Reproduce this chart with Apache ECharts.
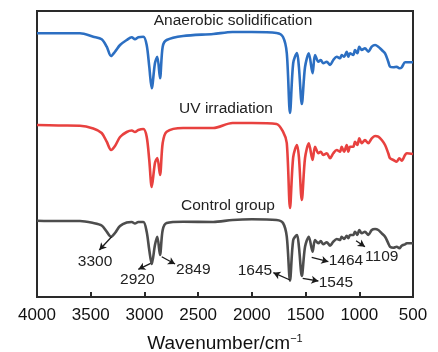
<!DOCTYPE html>
<html><head><meta charset="utf-8">
<script src="https://cdn.jsdelivr.net/npm/echarts@6/dist/echarts.min.js"></script>
<style>html,body{margin:0;padding:0;background:#fff}#c{width:438px;height:352px}</style>
</head><body><div id="c"></div>
<script>
// Wavenumbers (cm-1)
const wavenumbers = [4000,3800,3600,3476,3398,3351,3311,3274,3227,3165,3118,3088,3057,3010,2979,2955,2932,2902,2880,2855,2830,2793,2640,2360,2180,2000,1770,1710,1675,1645,1615,1580,1562,1535,1505,1470,1435,1412,1381,1359,1335,1303,1272,1242,1210,1179,1164,1142,1117,1102,1086,1056,1040,1018,1000,977,947,916,884,853,823,791,760,730,714,683,652,627,605,574,558,500];
// Stacked transmittance (a.u., offset)
const anaerobic = [263.7,263.7,263.7,260.3,257.7,250.3,241,245.3,252,257,259.7,257.7,259.7,260.3,252,230.3,208.7,233.7,240.3,218.7,250.3,257,261,263,265,265,264,260,244,184,234,244,230,193,230,243.7,223.7,242,235.3,237,233.7,235.3,232,237,240.3,238.7,242,240.3,245.3,240.3,243.7,242,247,243.7,250.3,247,248.7,245.3,250.3,252,250.3,247,243.7,235.3,230.3,229.7,230.3,228.7,229.7,234.7,234.7,234.7];
const uvIrradiation = [172,171.5,171.3,168.5,164,155.3,147,151,160,165,166.5,165,167,168,160.3,137,110,134,139,122,154,165.3,169,169,174,174,173,165.3,154,89,140,152,140,97,139,153.7,137,150.3,143.7,145.3,142,143.7,138.7,143.7,147,145.3,150.3,145.3,152,145.3,150.3,150.3,155.3,152,158.7,153.7,157,153.7,158.7,161,160.3,157,152,143.7,138.7,137,135.3,138.7,136.3,142,143.7,143];
const controlGroup = [76.3,76,76,74,71.5,65.3,60.3,64,71,74.5,75,73.5,75,75,65.3,47,33,52,60.3,42,67,74,75.3,75,77,77.7,77,74,60.3,16.3,57,62,50.3,21,50.3,60.3,45.3,57,53.7,56,52.7,54.7,51.3,55.3,58,57,60.3,58,61.3,58.7,62,62,65.3,62,67,63.7,65.3,62,67,68,67,63.7,60.3,53.7,50.3,49.3,50.3,48.7,51.3,52.7,53.7,53.7];
const seriesNames = ['Anaerobic solidification','UV irradiation','Control group'];
const xTicks = [4000,3500,3000,2500,2000,1500,1000,500];
// Peak annotations (control group): label, arrow tail at peak, arrow head, label anchor (data coords)
const peakLabels = ['3300','2920','2849','1645','1545','1464','1109'];
const peakFrom = [[3305,60.3],[2942,33.7],[2839,40.3],[1645,17],[1527,18.7],[1443,39.7],[1030,56.3]];
const peakTo = [[3420,47],[3057,27.7],[2715,33],[1800,24.3],[1381,16],[1288,35.3],[947,50.3]];
const peakText = [[3460,35.3],[3066,17],[2545,27.7],[1971,26.3],[1217,14.3],[1124,36.3],[791,40.3]];

const FONT = "'Liberation Sans', Arial, sans-serif";
const colors = ['#2c6fc2','#e8413f','#4d4d4d'];
const dataSets = [anaerobic, uvIrradiation, controlGroup];

const chart = echarts.init(document.getElementById('c'), null, {renderer:'canvas'});
const series = dataSets.map((vals, si) => ({
  name: seriesNames[si],
  type: 'line',
  data: wavenumbers.map((w, i) => [w, vals[i]]),
  showSymbol: false,
  symbol: 'none',
  smooth: 0.3,
  lineStyle: {color: colors[si], width: 2.6, join: 'round'},
  z: 3,
  silent: true
}));
series[2].markLine = {
  silent: true,
  symbol: ['none','arrow'],
  symbolSize: [6, 7],
  label: {show: false},
  lineStyle: {color: '#1a1a1a', width: 1.3, type: 'solid'},
  data: peakFrom.map((p, i) => [{coord: p}, {coord: peakTo[i]}])
};
series[2].markPoint = {
  silent: true,
  symbol: 'circle',
  symbolSize: 0,
  label: {show: true, position: 'inside', color: '#222', fontSize: 15.5, fontFamily: FONT, formatter: p => p.name},
  data: peakText.map((p, i) => ({name: peakLabels[i], coord: p}))
};

chart.setOption({
  animation: false,
  backgroundColor: '#fff',
  grid: {left: 37, right: 25, top: 11, bottom: 55, containLabel: false, outerBoundsMode: 'none',
    show: true, borderColor: '#2a2a2a', borderWidth: 2, backgroundColor: 'transparent'},
  xAxis: {
    type: 'value', inverse: true, min: 500, max: 4000, interval: 500,
    axisLine: {show: false},
    axisTick: {show: true, inside: true, length: 5, lineStyle: {color: '#2a2a2a', width: 2}},
    splitLine: {show: false},
    axisLabel: {color: '#111', fontSize: 17, fontFamily: FONT, margin: 10,
      formatter: v => xTicks.includes(v) ? String(v) : ''},
    name: 'Wavenumber/cm{sup|−1}',
    nameLocation: 'middle', nameGap: 36,
    nameTextStyle: {color: '#111', fontSize: 19, fontFamily: FONT,
      rich: {sup: {fontSize: 11, verticalAlign: 'top', padding: [0,0,10,0], color: '#111', fontFamily: FONT}}}
  },
  yAxis: {type: 'value', min: 0, max: 286, show: false},
  graphic: [
    {type: 'text', x: 233, y: 21, style: {text: seriesNames[0], fill: '#222', font: '15.5px ' + FONT, textAlign: 'center', textVerticalAlign: 'middle'}},
    {type: 'text', x: 226, y: 109, style: {text: seriesNames[1], fill: '#222', font: '15.5px ' + FONT, textAlign: 'center', textVerticalAlign: 'middle'}},
    {type: 'text', x: 228, y: 206, style: {text: seriesNames[2], fill: '#222', font: '15.5px ' + FONT, textAlign: 'center', textVerticalAlign: 'middle'}}
  ],
  series: series
});
</script></body></html>
